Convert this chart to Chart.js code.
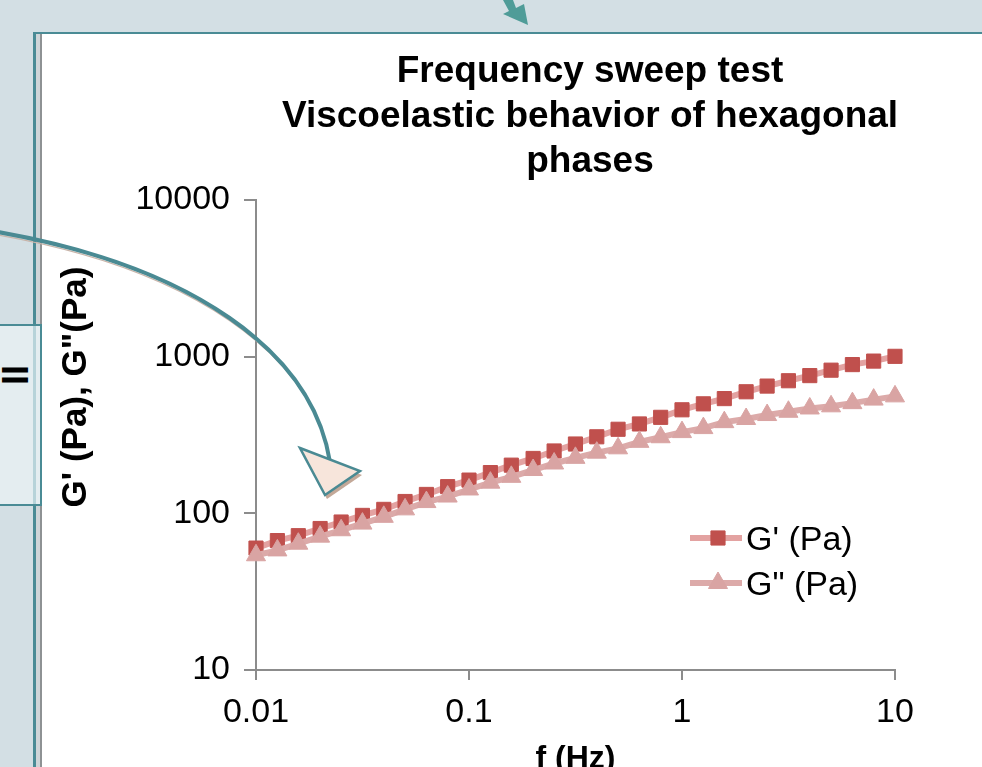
<!DOCTYPE html>
<html>
<head>
<meta charset="utf-8">
<script src="https://cdn.jsdelivr.net/npm/chart.js@4.4.1/dist/chart.umd.min.js"></script>
<style>
  html, body { margin: 0; padding: 0; }
  body {
    width: 982px; height: 767px; overflow: hidden; position: relative;
    background: #d3dfe4;
    font-family: 'Liberation Sans', Arial, sans-serif;
  }
  #panel {
    position: absolute; left: 33px; top: 32px; width: 1000px; height: 800px;
    background: #fff; border-top: 2px solid #4a8b95; border-left: 3px solid #4a8b95;
  }
  #strip { position: absolute; left: 36px; top: 34px; width: 4px; height: 800px; background: #cfd5d8; }
  #rule { position: absolute; left: 40px; top: 34px; width: 2px; height: 800px; background: #8e9294; }
  #chartBox { position: absolute; left: 42px; top: 34px; width: 1096px; height: 780px; }
  #tag {
    position: absolute; left: -3px; top: 324px; width: 45px; height: 182px;
    box-sizing: border-box; border: 2px solid #4a8b95; background: #e4edf0;
  }
  #tag .edge { position: absolute; left: 34px; top: 0; width: 3px; height: 100%; background: #b7d3d9; }
  #tag .num {
    position: absolute; left: 17px; top: 49px; font-weight: bold; font-size: 36px; line-height: 1;
    transform: translate(-50%, -50%) rotate(-90deg); color: #000;
  }
  #over { position: absolute; left: 0; top: 0; pointer-events: none; }
</style>
</head>
<body>
<div id="panel"></div>
<div id="strip"></div>
<div id="rule"></div>
<div id="chartBox"><canvas id="sweepChart" width="1096" height="780"></canvas></div>
<div id="tag"><div class="edge"></div><span class="num">II</span></div>
<svg id="over" width="982" height="767" viewBox="0 0 982 767">
  <polygon points="503,0 513,0 516,8 524,4 528,25 503,14 509,11" fill="#4f9c98"/>
  <path d="M-2,235 C190,269 313,353 331,465" fill="none" stroke="#c8b4a9" stroke-width="1.2"/>
  <path d="M-2,232 C190,266 312,350 330,462" fill="none" stroke="#4a8a93" stroke-width="4"/>
  <polygon points="302,452 362,475 327,499" fill="#c3a898"/>
  <polygon points="300,448 360,471 325,495" fill="#f7e5db" stroke="#4a8a93" stroke-width="2.5"/>
</svg>

<script>
// frequency sweep, 10 points per decade
const freqHz = [
  0.01, 0.0126, 0.0158, 0.02, 0.0251, 0.0316, 0.0398, 0.0501, 0.0631, 0.0794,
  0.1, 0.126, 0.158, 0.2, 0.251, 0.316, 0.398, 0.501, 0.631, 0.794,
  1, 1.26, 1.58, 2, 2.51, 3.16, 3.98, 5.01, 6.31, 7.94, 10
];
const storageModulus = [
  60, 67, 72, 80, 88, 97, 106, 119, 132, 148,
  163, 182, 203, 224, 250, 277, 308, 344, 372, 410,
  458, 500, 540, 597, 649, 702, 757, 820, 890, 937, 1005
];
const lossModulus = [
  54, 58, 64, 71, 78, 86, 95, 106, 118, 128,
  142, 157, 171, 189, 208, 226, 244, 260, 286, 306,
  330, 350, 382, 400, 424, 445, 467, 482, 505, 532, 558
];

const xTicks = [0.01, 0.1, 1, 10];
const xTickLabels = ['0.01', '0.1', '1', '10'];
const yTicks = [10, 100, 1000, 10000];
const yTickLabels = ['10', '100', '1000', '10000'];

const titleLines = ['Frequency sweep test', 'Viscoelastic behavior of hexagonal', 'phases'];
const xTitle = 'f (Hz)';
const yTitle = 'G\' (Pa), G"(Pa)';
const seriesLabels = ['G\' (Pa)', 'G" (Pa)'];

const FONT = "'Liberation Sans', Arial, sans-serif";
const AXIS_GREY = '#8c8c8c';

const toPoints = values => freqHz.map((f, i) => ({ x: f, y: values[i] }));

/* title, rotated y title and the legend sitting inside the plot */
const slideText = {
  id: 'slideText',
  afterDraw(chart) {
    const { ctx } = chart;
    ctx.save();
    ctx.fillStyle = '#000';
    ctx.textAlign = 'center';
    ctx.textBaseline = 'alphabetic';
    ctx.font = `bold 37px ${FONT}`;
    titleLines.forEach((line, i) => ctx.fillText(line, chart.width / 2, 48 + i * 45));

    ctx.translate(34, 353);
    ctx.rotate(-Math.PI / 2);
    ctx.textBaseline = 'middle';
    ctx.font = `bold 35px ${FONT}`;
    ctx.fillText(yTitle, 0, 0);
    ctx.restore();
  },
};

const inlineLegend = {
  id: 'inlineLegend',
  afterDatasetsDraw(chart) {
    const { ctx } = chart;
    chart.data.datasets.forEach((ds, i) => {
      const y = 504 + i * 45;
      ctx.save();
      ctx.strokeStyle = ds.borderColor;
      ctx.lineWidth = ds.borderWidth;
      ctx.beginPath();
      ctx.moveTo(648, y);
      ctx.lineTo(700, y);
      ctx.stroke();

      ctx.fillStyle = ds.pointBackgroundColor;
      ctx.strokeStyle = ds.pointBorderColor;
      ctx.lineWidth = 1;
      Chart.helpers.drawPoint(ctx, { pointStyle: ds.pointStyle, radius: ds.pointRadius, rotation: 0, borderWidth: 1 }, 676, y);

      ctx.fillStyle = '#000';
      ctx.font = `34px ${FONT}`;
      ctx.textAlign = 'left';
      ctx.textBaseline = 'middle';
      ctx.fillText(ds.label, 704, y + 3);
      ctx.restore();
    });
  },
};

const ctx = document.getElementById('sweepChart').getContext('2d');

new Chart(ctx, {
  type: 'line',
  data: {
    datasets: [
      {
        label: seriesLabels[0],
        data: toPoints(storageModulus),
        borderColor: '#e3a2a1',
        borderWidth: 6,
        pointStyle: 'rect',
        pointRadius: 10,
        pointBackgroundColor: '#c0504d',
        pointBorderColor: '#c0504d',
        pointBorderWidth: 1,
        tension: 0,
        clip: false,
        order: 2,
      },
      {
        label: seriesLabels[1],
        data: toPoints(lossModulus),
        borderColor: '#dcaaa9',
        borderWidth: 6,
        pointStyle: 'triangle',
        pointRadius: 11,
        pointBackgroundColor: '#d9a4a3',
        pointBorderColor: '#d9a4a3',
        pointBorderWidth: 1,
        tension: 0,
        clip: false,
        order: 1,
      },
    ],
  },
  options: {
    responsive: false,
    animation: false,
    events: [],
    layout: { padding: { left: 0, right: 243, top: 166, bottom: 0 } },
    plugins: {
      legend: { display: false },
      title: { display: false },
      tooltip: { enabled: false },
    },
    scales: {
      x: {
        type: 'logarithmic',
        min: 0.01,
        max: 10,
        afterBuildTicks(scale) {
          scale.ticks = xTicks.map(value => ({ value }));
        },
        afterFit(scale) {
          scale.height = 144;
        },
        ticks: {
          callback: (value, index) => xTickLabels[index],
          font: { family: FONT, size: 34 },
          color: '#000',
          padding: 12,
          maxRotation: 0,
          autoSkip: false,
        },
        grid: { drawOnChartArea: false, color: AXIS_GREY, lineWidth: 2, tickLength: 10 },
        border: { color: AXIS_GREY, width: 2 },
        title: {
          display: true,
          text: xTitle,
          font: { family: FONT, size: 32, weight: 'bold' },
          color: '#000',
          padding: { top: 6, bottom: 36 },
        },
      },
      y: {
        type: 'logarithmic',
        min: 10,
        max: 10000,
        afterBuildTicks(scale) {
          scale.ticks = yTicks.map(value => ({ value }));
        },
        afterFit(scale) {
          scale.width = 214;
        },
        ticks: {
          callback: (value, index) => yTickLabels[index],
          font: { family: FONT, size: 34 },
          color: '#000',
          padding: 14,
          autoSkip: false,
        },
        grid: { drawOnChartArea: false, color: AXIS_GREY, lineWidth: 2, tickLength: 12 },
        border: { color: AXIS_GREY, width: 2 },
      },
    },
  },
  plugins: [slideText, inlineLegend],
});
</script>
</body>
</html>
